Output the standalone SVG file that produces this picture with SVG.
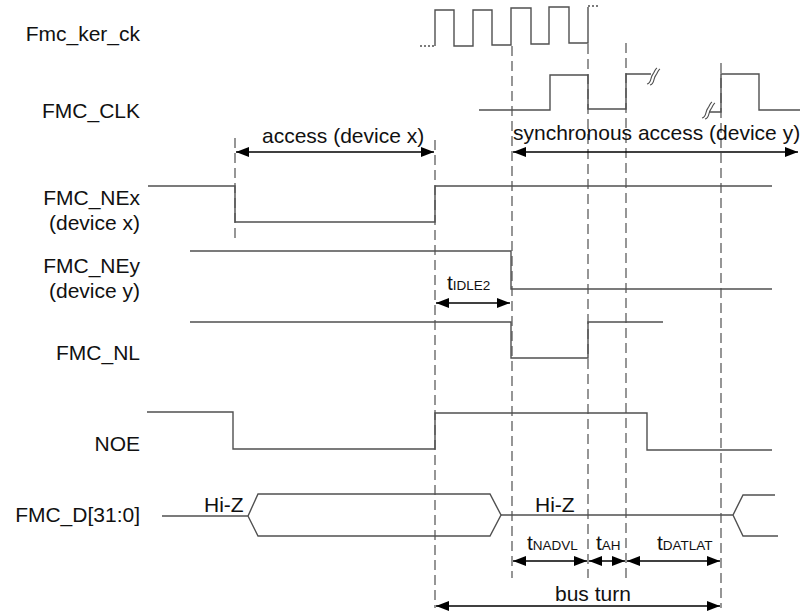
<svg xmlns="http://www.w3.org/2000/svg" width="800" height="613" viewBox="0 0 800 613">
<defs>
<marker id="ah" viewBox="0 0 13 10" refX="13" refY="5" markerWidth="13" markerHeight="10" markerUnits="userSpaceOnUse" orient="auto-start-reverse">
<path d="M0,0 L13,5 L0,10 Z" fill="#000"/>
</marker>
<style>
.lbl{font-family:"Liberation Sans",Arial,sans-serif;font-size:21px;fill:#111}
.sub{font-size:13.5px}
.sig{fill:none;stroke:#505050;stroke-width:1.4}
.dot{fill:none;stroke:#505050;stroke-width:1.4;stroke-dasharray:2 2}
.dash{fill:none;stroke:#6a6a6a;stroke-width:1.4;stroke-dasharray:10 5}
.arr{fill:none;stroke:#000;stroke-width:1.6;marker-start:url(#ah);marker-end:url(#ah)}
.brk{fill:none;stroke:#505050;stroke-width:1.1}
</style>
</defs>
<rect width="800" height="613" fill="#fff"/>

<g id="guides">
<line class="dash" x1="235" y1="138" x2="235" y2="240"/>
<line class="dash" x1="435" y1="140" x2="435" y2="608"/>
<line class="dash" x1="512" y1="46" x2="512" y2="578"/>
<line class="dash" x1="588" y1="44" x2="588" y2="578"/>
<line class="dash" x1="626" y1="43" x2="626" y2="578"/>
<line class="dash" x1="721" y1="63" x2="721" y2="608"/>
</g>

<g id="labels">
<text class="lbl" x="140" y="41" text-anchor="end">Fmc_ker_ck</text>
<text class="lbl" x="140" y="118" text-anchor="end">FMC_CLK</text>
<text class="lbl" x="140" y="205" text-anchor="end">FMC_NEx</text>
<text class="lbl" x="140" y="230" text-anchor="end">(device x)</text>
<text class="lbl" x="140" y="273" text-anchor="end">FMC_NEy</text>
<text class="lbl" x="140" y="298" text-anchor="end">(device y)</text>
<text class="lbl" x="140" y="360" text-anchor="end">FMC_NL</text>
<text class="lbl" x="140" y="451" text-anchor="end">NOE</text>
<text class="lbl" x="140" y="522" text-anchor="end">FMC_D[31:0]</text>
</g>

<g id="fmc_ker_ck">
<path class="dot" d="M420,46 H435"/>
<path class="sig" d="M435,46 V10 H454 V46 H473 V10 H492 V45 H511 V8 H531 V44 H549 V7 H569 V43 H588 V7"/>
<path class="dot" d="M588,6 H600"/>
</g>

<g id="fmc_clk">
<path class="sig" d="M479,110 H550 V75 H588 V109 H626 V74 H651"/>
<path class="brk" d="M647,84 C652,83 650,77 653,74 C655,71 655,69 657,68"/>
<path class="brk" d="M650,85 C655,84 653,78 656,75 C658,72 658,70 660,69"/>
<path class="brk" d="M702,118 C707,117 705,111 708,108 C710,105 710,103 712,102"/>
<path class="brk" d="M705,119 C710,118 708,112 711,109 C713,106 713,104 715,103"/>
<path class="sig" d="M709,112 H721 V74 H759 V110 H800"/>
</g>

<g id="fmc_nex">
<path class="sig" d="M148,186 H235 V222 H435 V186 H772"/>
</g>
<g id="fmc_ney">
<path class="sig" d="M190,251 H511 V289 H772"/>
</g>
<g id="fmc_nl">
<path class="sig" d="M190,322 H511 V358 H588 V322 H663"/>
</g>
<g id="noe">
<path class="sig" d="M147,412 H233 V449 H435 V413 H647 V450 H772"/>
</g>
<g id="fmc_d">
<path class="sig" d="M162,516 H248 L258,494 H490 L501,515 L490,536 H258 L248,516"/>
<path class="sig" d="M501,515 H733 L743,495 H775 M733,515 L743,536 H778"/>
<text class="lbl" x="204" y="512">Hi-Z</text>
<text class="lbl" x="535" y="512">Hi-Z</text>
</g>

<g id="connectors">
<line class="arr" x1="236" y1="152" x2="434" y2="152"/>
<line class="arr" x1="513" y1="152" x2="798" y2="152"/>
<line class="arr" x1="436" y1="303" x2="510" y2="303"/>
<line class="arr" x1="513" y1="561" x2="587" y2="561"/>
<line class="arr" x1="589" y1="561" x2="625" y2="561"/>
<line class="arr" x1="627" y1="561" x2="720" y2="561"/>
<line class="arr" x1="436" y1="606" x2="720" y2="606"/>
</g>

<g id="timing-labels">
<text class="lbl" x="262" y="143">access (device x)</text>
<text class="lbl" x="513" y="140">synchronous access (device y)</text>
<text class="lbl" x="447" y="290">t<tspan class="sub">IDLE2</tspan></text>
<text class="lbl" x="527" y="550">t<tspan class="sub">NADVL</tspan></text>
<text class="lbl" x="596" y="550">t<tspan class="sub">AH</tspan></text>
<text class="lbl" x="657" y="550">t<tspan class="sub">DATLAT</tspan></text>
<text class="lbl" x="555" y="601">bus turn</text>
</g>
</svg>
